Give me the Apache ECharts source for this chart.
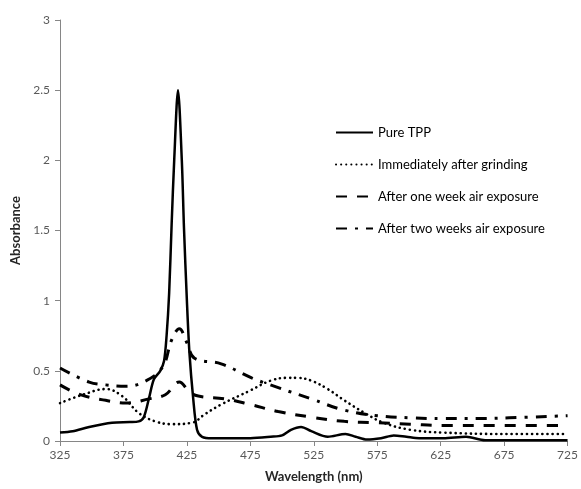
<!DOCTYPE html>
<html>
<head>
    <meta charset="utf-8">
    <title>Absorbance</title>
    <script src="https://cdn.jsdelivr.net/npm/echarts@6/dist/echarts.min.js"></script>
    <style>
        html, body { margin: 0; padding: 0; background: #fff; }
    </style>
</head>
<body>
    <div id="main" style="width:581px;height:489px;"></div>
    <script type="text/javascript">
// wavelengths (nm) and absorbance, one pair of arrays per curve
var tppX = [325, 335, 348, 366, 380, 387, 391, 395, 399, 404, 407, 409, 411, 413, 415, 418, 421, 422.7, 425, 427, 430, 433, 437, 445, 460, 475, 491, 500, 507, 515, 523, 536, 550, 558, 567, 578, 588, 598, 608, 627, 645, 660, 690, 725];
var tppY = [0.06, 0.07, 0.10, 0.13, 0.135, 0.14, 0.17, 0.30, 0.44, 0.50, 0.57, 0.75, 1.05, 1.55, 2.0, 2.5, 2.0, 1.52, 1.0, 0.63, 0.30, 0.08, 0.03, 0.02, 0.02, 0.02, 0.03, 0.04, 0.08, 0.10, 0.07, 0.03, 0.05, 0.03, 0.01, 0.02, 0.04, 0.03, 0.02, 0.02, 0.03, 0.005, 0.005, 0.005];

var grindX = [325, 343, 361, 374, 387, 400, 413, 429, 439, 452, 475, 491, 504, 512, 523, 536, 549, 565, 580, 601, 627, 675, 725];
var grindY = [0.27, 0.33, 0.37, 0.32, 0.20, 0.14, 0.12, 0.13, 0.19, 0.26, 0.36, 0.43, 0.45, 0.45, 0.43, 0.37, 0.29, 0.20, 0.13, 0.08, 0.06, 0.05, 0.05];

var weekX = [325, 341, 361, 377, 395, 408, 419, 427, 434, 455, 475, 497, 523, 549, 575, 601, 627, 675, 725];
var weekY = [0.40, 0.33, 0.29, 0.27, 0.30, 0.33, 0.42, 0.35, 0.32, 0.30, 0.26, 0.21, 0.17, 0.14, 0.13, 0.12, 0.11, 0.11, 0.11];

var twoWeekX = [325, 348, 361, 377, 393, 406, 413, 419, 425, 431, 452, 476, 497, 523, 549, 575, 601, 627, 653, 679, 725];
var twoWeekY = [0.52, 0.42, 0.40, 0.39, 0.43, 0.53, 0.72, 0.80, 0.70, 0.59, 0.55, 0.45, 0.38, 0.30, 0.22, 0.18, 0.165, 0.16, 0.16, 0.165, 0.18];

var names = ['Pure TPP', 'Immediately after grinding', 'After one week air exposure', 'After two weeks air exposure'];

function pairs(xs, ys) {
    var out = [];
    for (var i = 0; i < xs.length; i++) {
        out.push([xs[i], ys[i]]);
    }
    return out;
}

var myChart = echarts.init(document.getElementById('main'));
var font = 'Lato, "Open Sans", sans-serif';

option = {
    backgroundColor: '#ffffff',
    animation: false,
    grid: {
        left: 60,
        right: 8,
        top: 20,
        bottom: 48
    },
    legend: {
        orient: 'vertical',
        left: 330,
        top: 121,
        itemWidth: 37,
        itemHeight: 14,
        itemGap: 19,
        itemStyle: { opacity: 0 },
        textStyle: {
            color: '#000',
            fontSize: 13,
            fontFamily: font
        },
        data: names
    },
    xAxis: {
        type: 'value',
        min: 325,
        max: 725,
        interval: 50,
        name: 'Wavelength (nm)',
        nameLocation: 'middle',
        nameGap: 29,
        nameTextStyle: {
            fontSize: 13,
            fontWeight: 'bold',
            color: '#262626',
            fontFamily: font
        },
        axisLine: { lineStyle: { color: '#868686', width: 1 } },
        axisTick: { show: true, length: 5, lineStyle: { color: '#868686' } },
        splitLine: { show: false },
        axisLabel: {
            color: '#595959',
            fontSize: 12,
            fontFamily: font,
            margin: 8
        }
    },
    yAxis: {
        type: 'value',
        min: 0,
        max: 3,
        interval: 0.5,
        name: 'Absorbance',
        nameLocation: 'middle',
        nameGap: 35,
        nameRotate: 90,
        nameTextStyle: {
            fontSize: 13,
            fontWeight: 'bold',
            color: '#262626',
            fontFamily: font
        },
        axisLine: { show: true, lineStyle: { color: '#868686', width: 1 } },
        axisTick: { show: true, length: 5, lineStyle: { color: '#868686' } },
        splitLine: { show: false },
        axisLabel: {
            color: '#595959',
            fontSize: 12,
            fontFamily: font,
            margin: 10
        }
    },
    series: [
        {
            name: names[0],
            type: 'line',
            showSymbol: false,
            symbol: 'none',
            smooth: 0.3,
            lineStyle: { color: '#000', width: 2.5, type: 'solid' },
            itemStyle: { color: '#000' },
            data: pairs(tppX, tppY)
        },
        {
            name: names[1],
            type: 'line',
            showSymbol: false,
            symbol: 'none',
            smooth: 0.4,
            lineStyle: { color: '#000', width: 2.6, type: [0.1, 5], cap: 'round' },
            itemStyle: { color: '#000' },
            data: pairs(grindX, grindY)
        },
        {
            name: names[2],
            type: 'line',
            showSymbol: false,
            symbol: 'none',
            smooth: 0.4,
            lineStyle: { color: '#000', width: 3, type: [11, 10] },
            itemStyle: { color: '#000' },
            data: pairs(weekX, weekY)
        },
        {
            name: names[3],
            type: 'line',
            showSymbol: false,
            symbol: 'none',
            smooth: 0.4,
            lineStyle: { color: '#000', width: 3, type: [11, 8, 3, 8] },
            itemStyle: { color: '#000' },
            data: pairs(twoWeekX, twoWeekY)
        }
    ]
};

myChart.setOption(option);
    </script>
</body>
</html>
